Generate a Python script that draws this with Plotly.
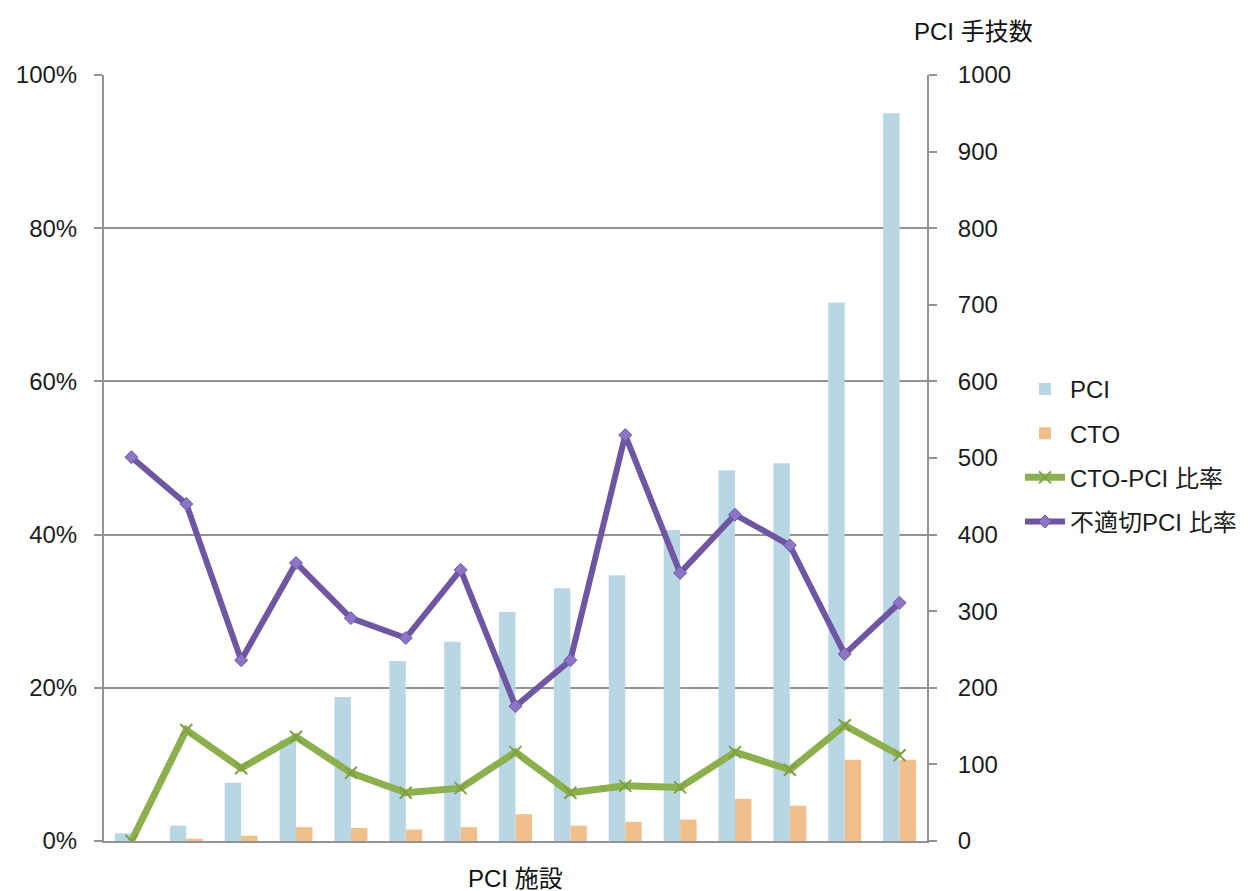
import plotly.graph_objects as go

# Facilities (15), sorted by PCI volume
facilities = list(range(1, 16))

# Procedure counts (right axis)
pci_counts = [10, 20, 76, 132, 188, 235, 260, 299, 330, 347, 406, 484, 493, 703, 950]
cto_counts = [0, 3, 7, 18, 17, 15, 18, 35, 20, 25, 28, 55, 46, 106, 106]

# Ratios (left axis)
cto_pci_ratio = [0.0, 0.145, 0.095, 0.136, 0.089, 0.063, 0.069, 0.116, 0.063, 0.072,
                 0.070, 0.116, 0.093, 0.151, 0.112]
inappropriate_ratio = [0.501, 0.440, 0.236, 0.363, 0.291, 0.265, 0.354, 0.176, 0.236, 0.530,
                       0.350, 0.426, 0.386, 0.244, 0.311]

pct_ticks = [0, 0.2, 0.4, 0.6, 0.8, 1.0]
count_ticks = list(range(0, 1001, 100))

FONT = "Liberation Sans, Arial, Noto Sans CJK JP, sans-serif"
GRID = "#939393"
TXT = "#1c1c1c"

fig = go.Figure()

fig.add_trace(go.Bar(
    x=facilities, y=pci_counts, name="PCI",
    marker=dict(color="#b9d6e4", line=dict(width=0)),
    yaxis="y", legendgroup="a",
))
fig.add_trace(go.Bar(
    x=facilities, y=cto_counts, name="CTO",
    marker=dict(color="#f1bf8b", line=dict(width=0)),
    yaxis="y", legendgroup="b",
))
fig.add_trace(go.Scatter(
    x=facilities, y=cto_pci_ratio, name="CTO-PCI 比率",
    mode="lines+markers",
    line=dict(color="#8db04e", width=7),
    marker=dict(symbol="x-thin", size=12, color="#8db04e",
                line=dict(color="#7fa043", width=2)),
    yaxis="y2", legendgroup="c",
))
fig.add_trace(go.Scatter(
    x=facilities, y=inappropriate_ratio, name="不適切PCI 比率",
    mode="lines+markers",
    line=dict(color="#6f56a3", width=6),
    marker=dict(symbol="diamond", size=10, color="#8d74c6",
                line=dict(color="#6f56a3", width=1)),
    yaxis="y2", legendgroup="d",
))

fig.update_layout(
    width=1255, height=891,
    margin=dict(l=104, r=328, t=75, b=50),
    paper_bgcolor="white", plot_bgcolor="white",
    font=dict(family=FONT, size=24, color=TXT),
    barmode="group", bargap=0.4, bargroupgap=0,
    showlegend=True,
    legend=dict(
        x=1.113, y=0.619, xanchor="left", yanchor="top",
        font=dict(size=24, color=TXT),
        tracegroupgap=10, itemwidth=40,
        bgcolor="rgba(0,0,0,0)",
    ),
    xaxis=dict(
        range=[0.5, 15.5], showticklabels=False, ticks="",
        showgrid=False, zeroline=False,
        showline=True, linecolor=GRID, linewidth=2,
    ),
    yaxis=dict(
        side="right", range=[0, 1000],
        tickvals=count_ticks, ticktext=[str(v) for v in count_ticks],
        ticks="outside", ticklen=8, tickcolor=GRID, tickwidth=2,
        ticklabelstandoff=16,
        showline=True, linecolor=GRID, linewidth=2,
        showgrid=False, zeroline=False,
    ),
    yaxis2=dict(
        side="left", overlaying="y", range=[0, 1],
        tickvals=pct_ticks, ticktext=[f"{int(v * 100)}%" for v in pct_ticks],
        ticks="outside", ticklen=8, tickcolor=GRID, tickwidth=2,
        ticklabelstandoff=12,
        showline=True, linecolor=GRID, linewidth=2,
        showgrid=True, gridcolor=GRID, gridwidth=2,
        zeroline=False,
    ),
    annotations=[
        dict(text="PCI 手技数", xref="paper", yref="paper",
             x=1.057, y=1.0, xanchor="center", yanchor="bottom", yshift=28,
             showarrow=False, font=dict(size=24, color="#111", family=FONT)),
        dict(text="PCI 施設", xref="paper", yref="paper",
             x=0.5, y=0.0, xanchor="center", yanchor="top", yshift=-22,
             showarrow=False, font=dict(size=24, color="#111", family=FONT)),
    ],
)

fig.write_html("out.html")
